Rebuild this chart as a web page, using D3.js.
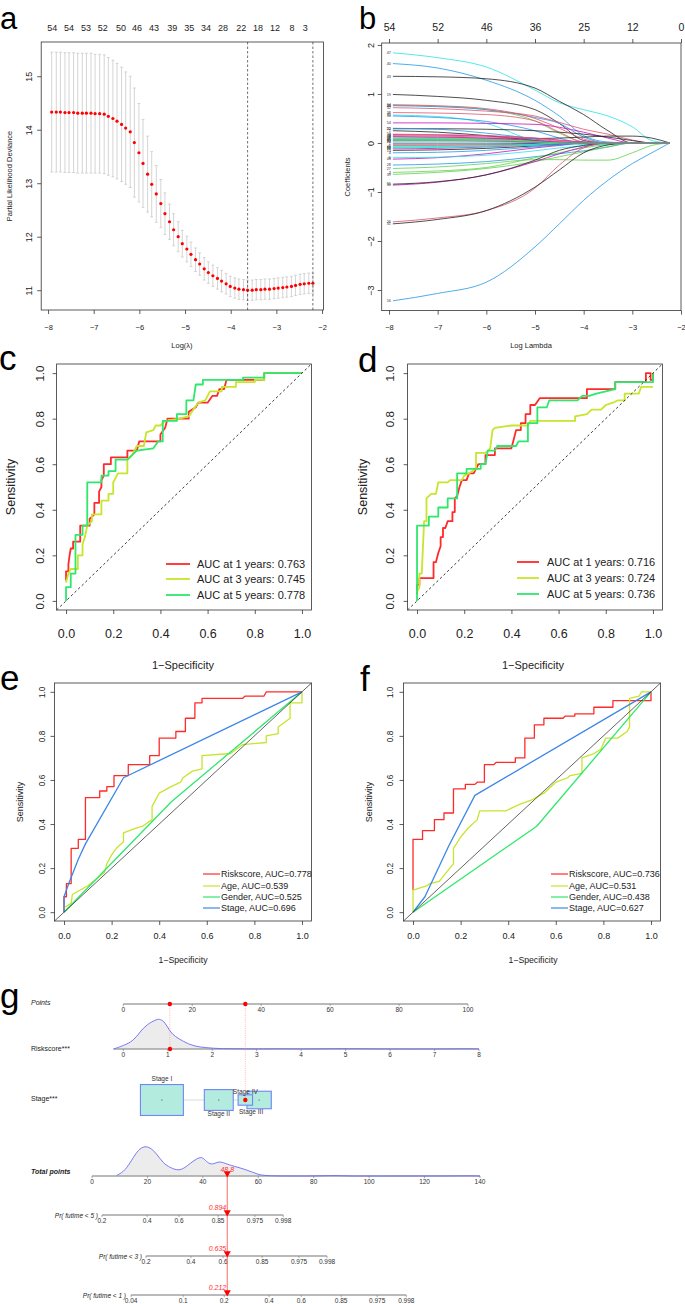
<!DOCTYPE html>
<html>
<head>
<meta charset="utf-8">
<script src="https://cdn.jsdelivr.net/npm/d3@7"></script>
<style>
  body { margin: 0; background: #fff; }
  text { font-family: "Liberation Sans", Arial, sans-serif; }
</style>
</head>
<body>
<div id="fig"></div>
<script>
// ---------- data: a (cross-validation curve) ----------
var aLogLambda = [-7.92,-7.82,-7.73,-7.63,-7.54,-7.44,-7.35,-7.25,-7.16,-7.06,
  -6.97,-6.87,-6.77,-6.68,-6.58,-6.49,-6.39,-6.30,-6.20,-6.11,
  -6.01,-5.92,-5.82,-5.73,-5.63,-5.53,-5.44,-5.34,-5.25,-5.15,
  -5.06,-4.96,-4.87,-4.77,-4.68,-4.58,-4.49,-4.39,-4.29,-4.20,
  -4.10,-4.01,-3.91,-3.82,-3.72,-3.63,-3.53,-3.44,-3.34,-3.25,
  -3.15,-3.05,-2.96,-2.86,-2.77,-2.67,-2.58,-2.48,-2.39,-2.29,-2.20];
var aDeviance = [14.33,14.33,14.33,14.32,14.32,14.32,14.31,14.31,14.31,14.31,
  14.30,14.30,14.29,14.25,14.21,14.16,14.10,14.03,13.96,13.76,
  13.57,13.37,13.17,12.98,12.80,12.62,12.43,12.28,12.13,12.00,
  11.87,11.77,11.67,11.57,11.49,11.40,11.33,11.27,11.22,11.17,
  11.12,11.07,11.04,11.02,11.01,11.00,11.00,11.01,11.01,11.02,
  11.02,11.03,11.04,11.05,11.06,11.07,11.09,11.11,11.12,11.13,11.13];
var aSE = [1.12,1.12,1.12,1.12,1.12,1.12,1.12,1.12,1.12,1.12,
  1.11,1.11,1.11,1.10,1.09,1.08,1.07,1.05,1.04,1.02,
  0.92,0.82,0.71,0.61,0.53,0.45,0.39,0.33,0.30,0.28,
  0.25,0.24,0.23,0.22,0.21,0.21,0.20,0.20,0.20,0.20,
  0.19,0.19,0.19,0.19,0.19,0.19,0.19,0.19,0.19,0.19,
  0.19,0.19,0.19,0.19,0.19,0.19,0.19,0.19,0.19,0.19,0.19];
var aTopLabels = [54,54,53,52,50,46,43,39,35,34,28,22,18,12,8,3];
var aTopAt = [-7.91,-7.54,-7.17,-6.80,-6.40,-6.05,-5.68,-5.28,-4.91,-4.54,-4.17,-3.77,-3.40,-3.03,-2.66,-2.37];
var aLambdaMin = -3.63, aLambda1se = -2.20;
var aXTicks = [-8,-7,-6,-5,-4,-3,-2];
var aYTicks = [11,12,13,14,15];

// ---------- data: b (coefficient paths) ----------
var bKnots = [-7.92,-7,-6,-5,-4.5,-4,-3.5,-3,-2.6,-2.23];
var bVars = [47,40,43,19,21,34,32,38,35,10,54,25,1,49,6,44,9,11,12,22,7,2,15,18,13,41,48,5,28,27,3,39,30,55,26,31,16,14,52,33,17,50,4,24,45];
var bCoefs = [
  [1.84,1.74,1.55,1.08,0.82,0.68,0.55,0.33,0.05,0],
  [1.62,1.53,1.28,0.87,0.55,0.15,0.02,0,0,0],
  [1.36,1.35,1.31,1.12,0.85,0.58,0.25,0,0,0],
  [0.99,0.95,0.87,0.68,0.40,0.05,0,0,0,0],
  [0.77,0.75,0.68,0.45,0.20,0.02,0,0,0,0],
  [0.76,0.74,0.68,0.52,0.40,0.12,0,0,0,0],
  [0.72,0.70,0.65,0.55,0.42,0.28,0.18,0.06,0,0],
  [0.62,0.61,0.58,0.45,0.22,0.02,0,0,0,0],
  [0.57,0.54,0.40,0.05,0,0,0,0,0,0],
  [0.55,0.52,0.44,0.25,0.10,0,0,0,0,0],
  [0.41,0.41,0.40,0.38,0.32,0.22,0.10,0,0,0],
  [0.29,0.29,0.28,0.25,0.22,0.18,0.12,0.05,0,0],
  [0.25,0.22,0.15,0.05,0,0,0,0,0,0],
  [0.08,0.08,0.08,0.09,0.10,0.12,0.14,0.14,0.10,0],
  [0.17,0.16,0.14,0.10,0.06,0.02,0,0,0,0],
  [0.15,0.14,0.12,0.08,0.03,0,0,0,0,0],
  [0.12,0.11,0.09,0.04,0,0,0,0,0,0],
  [0.10,0.09,0.06,0.02,0,0,0,0,0,0],
  [0.05,0.05,0.04,0.02,0,0,0,0,0,0],
  [0.02,0.02,0.02,0.01,0,0,0,0,0,0],
  [-0.02,-0.02,-0.02,-0.01,0,0,0,0,0,0],
  [-0.05,-0.05,-0.04,-0.02,0,0,0,0,0,0],
  [-0.09,-0.08,-0.06,-0.03,0,0,0,0,0,0],
  [-0.12,-0.11,-0.08,-0.04,-0.02,0,0,0,0,0],
  [-0.15,-0.14,-0.11,-0.06,-0.03,0,0,0,0,0],
  [-0.07,-0.07,-0.06,-0.05,-0.04,-0.03,-0.02,0,0,0],
  [-0.33,-0.30,-0.22,-0.10,-0.05,0,0,0,0,0],
  [-0.30,-0.29,-0.25,-0.16,-0.10,-0.06,-0.02,0,0,0],
  [-0.45,-0.43,-0.38,-0.28,-0.22,-0.16,-0.08,0,0,0],
  [-0.52,-0.49,-0.42,-0.34,-0.34,-0.35,-0.35,-0.20,-0.05,0],
  [-0.60,-0.57,-0.50,-0.30,-0.20,-0.10,-0.03,0,0,0],
  [-0.64,-0.60,-0.52,-0.38,-0.28,-0.18,-0.08,0,0,0],
  [-0.86,-0.80,-0.65,-0.38,-0.22,-0.08,0,0,0,0],
  [-0.84,-0.79,-0.65,-0.35,-0.15,-0.05,0,0,0,0],
  [-1.61,-1.53,-1.38,-0.92,-0.45,-0.10,0,0,0,0],
  [-1.65,-1.56,-1.38,-0.90,-0.55,-0.20,-0.04,0,0,0],
  [-3.22,-3.07,-2.84,-2.12,-1.65,-1.17,-0.76,-0.42,-0.20,0],
  [0.78,0.76,0.70,0.50,0.30,0.08,0,0,0,0],
  [0.30,0.28,0.20,0.08,0,0,0,0,0,0],
  [0.05,0.05,0.05,0.03,0.01,0,0,0,0,0],
  [-0.10,-0.09,-0.07,-0.03,0,0,0,0,0,0],
  [0.18,0.17,0.15,0.10,0.05,0.01,0,0,0,0],
  [-0.20,-0.19,-0.15,-0.08,-0.04,0,0,0,0,0],
  [0.13,0.12,0.10,0.05,0.02,0,0,0,0,0],
  [0.07,0.07,0.06,0.03,0,0,0,0,0,0]
];
var bTopLabels = [54,52,46,36,25,12,0];
var bXTicks = [-8,-7,-6,-5,-4,-3,-2];
var bYTicks = [-3,-2,-1,0,1,2];

// ---------- data: c, d (time-dependent ROC) ----------
var rocYears = ["AUC at 1 years: ", "AUC at 3 years: ", "AUC at 5 years: "];
var cAUC = ["0.763", "0.745", "0.778"];
var dAUC = ["0.716", "0.724", "0.736"];
var cRoc1 = [[0,0.09],[0,0.13],[0.01,0.13],[0.01,0.16],[0.015,0.2],[0.02,0.23],[0.03,0.23],[0.03,0.26],[0.06,0.26],[0.06,0.33],[0.1,0.33],[0.1,0.36],[0.12,0.38],[0.12,0.43],[0.14,0.43],[0.14,0.48],[0.15,0.5],[0.15,0.53],[0.16,0.55],[0.16,0.6],[0.19,0.6],[0.19,0.63],[0.26,0.63],[0.26,0.66],[0.3,0.66],[0.31,0.7],[0.4,0.7],[0.4,0.73],[0.42,0.76],[0.43,0.8],[0.52,0.8],[0.52,0.83],[0.55,0.85],[0.56,0.87],[0.6,0.87],[0.62,0.9],[0.64,0.9],[0.65,0.93],[0.67,0.93],[0.68,0.97],[0.84,0.97],[0.84,1],[1,1]];
var cRoc3 = [[0,0.08],[0.01,0.12],[0.02,0.14],[0.05,0.14],[0.05,0.2],[0.07,0.2],[0.07,0.25],[0.08,0.28],[0.09,0.33],[0.11,0.35],[0.11,0.38],[0.15,0.38],[0.15,0.44],[0.18,0.44],[0.18,0.47],[0.2,0.47],[0.2,0.52],[0.22,0.56],[0.26,0.56],[0.26,0.62],[0.28,0.64],[0.3,0.68],[0.33,0.68],[0.34,0.74],[0.37,0.75],[0.38,0.77],[0.4,0.77],[0.42,0.79],[0.48,0.8],[0.52,0.81],[0.54,0.84],[0.56,0.87],[0.59,0.88],[0.61,0.92],[0.66,0.92],[0.66,0.94],[0.72,0.94],[0.72,0.96],[0.8,0.96],[0.8,0.97],[0.84,0.97],[0.84,1],[1,1]];
var cRoc5 = [[0,0],[0,0.06],[0.02,0.06],[0.02,0.12],[0.04,0.12],[0.04,0.29],[0.07,0.29],[0.07,0.33],[0.09,0.33],[0.09,0.52],[0.15,0.52],[0.15,0.55],[0.18,0.55],[0.18,0.57],[0.21,0.57],[0.21,0.62],[0.26,0.62],[0.3,0.66],[0.37,0.67],[0.39,0.7],[0.41,0.7],[0.41,0.79],[0.47,0.79],[0.47,0.82],[0.51,0.82],[0.51,0.88],[0.54,0.88],[0.55,0.95],[0.58,0.95],[0.58,0.97],[0.75,0.97],[0.75,0.98],[0.84,0.98],[0.84,1],[1,1]];
var dRoc1 = [[0,0.03],[0,0.07],[0.01,0.07],[0.01,0.1],[0.07,0.1],[0.07,0.17],[0.08,0.17],[0.09,0.21],[0.1,0.24],[0.1,0.28],[0.11,0.28],[0.11,0.32],[0.12,0.32],[0.13,0.35],[0.15,0.35],[0.15,0.39],[0.16,0.39],[0.16,0.45],[0.17,0.46],[0.18,0.5],[0.19,0.53],[0.21,0.53],[0.22,0.56],[0.24,0.56],[0.25,0.58],[0.26,0.6],[0.29,0.6],[0.29,0.64],[0.33,0.64],[0.33,0.67],[0.4,0.67],[0.41,0.71],[0.42,0.75],[0.44,0.75],[0.44,0.78],[0.46,0.78],[0.46,0.82],[0.48,0.82],[0.48,0.86],[0.5,0.86],[0.52,0.89],[0.72,0.89],[0.72,0.93],[0.84,0.93],[0.84,0.96],[0.97,0.96],[0.97,1],[0.99,1],[0.99,0.97],[1,0.97],[1,1]];
var dRoc3 = [[0,0.04],[0.01,0.06],[0.01,0.12],[0.02,0.12],[0.03,0.35],[0.04,0.35],[0.04,0.45],[0.06,0.47],[0.08,0.47],[0.09,0.52],[0.13,0.52],[0.14,0.53],[0.19,0.53],[0.2,0.55],[0.22,0.56],[0.25,0.58],[0.25,0.65],[0.29,0.65],[0.31,0.67],[0.32,0.75],[0.33,0.76],[0.4,0.77],[0.47,0.77],[0.48,0.79],[0.67,0.79],[0.67,0.81],[0.72,0.82],[0.74,0.84],[0.78,0.84],[0.8,0.86],[0.83,0.87],[0.85,0.88],[0.88,0.88],[0.88,0.91],[0.94,0.91],[0.95,0.94],[1,0.94]];
var dRoc5 = [[0,0],[0,0.33],[0.05,0.33],[0.05,0.37],[0.09,0.37],[0.09,0.41],[0.13,0.41],[0.13,0.45],[0.17,0.45],[0.17,0.56],[0.21,0.56],[0.21,0.58],[0.27,0.58],[0.27,0.6],[0.29,0.6],[0.3,0.66],[0.33,0.66],[0.34,0.68],[0.42,0.68],[0.43,0.7],[0.47,0.7],[0.47,0.78],[0.51,0.78],[0.51,0.85],[0.55,0.85],[0.56,0.88],[0.68,0.88],[0.7,0.9],[0.73,0.9],[0.76,0.91],[0.8,0.92],[0.84,0.93],[0.84,0.96],[1,0.96],[1,1]];

// ---------- data: e, f (multivariable ROC) ----------
var featNames = ["Riskscore", "Age", "Gender", "Stage"];
var eAUC = ["0.778", "0.539", "0.525", "0.696"];
var fAUC = ["0.736", "0.531", "0.438", "0.627"];
var eRisk = [[0,0],[0,0.07],[0.01,0.07],[0.01,0.13],[0.03,0.13],[0.03,0.29],[0.06,0.29],[0.06,0.33],[0.09,0.33],[0.09,0.52],[0.15,0.52],[0.15,0.55],[0.18,0.55],[0.18,0.57],[0.21,0.57],[0.21,0.62],[0.27,0.62],[0.27,0.67],[0.36,0.67],[0.36,0.71],[0.4,0.71],[0.4,0.79],[0.47,0.79],[0.47,0.82],[0.51,0.82],[0.51,0.88],[0.55,0.88],[0.55,0.95],[0.58,0.95],[0.58,0.97],[0.75,0.97],[0.76,0.98],[0.84,0.98],[0.85,1],[1,1]];
var eAge = [[0,0.02],[0.03,0.04],[0.035,0.08],[0.1,0.12],[0.17,0.18],[0.18,0.22],[0.2,0.26],[0.22,0.29],[0.25,0.32],[0.25,0.36],[0.3,0.38],[0.33,0.39],[0.37,0.42],[0.37,0.48],[0.4,0.54],[0.45,0.57],[0.49,0.59],[0.5,0.61],[0.54,0.64],[0.58,0.65],[0.58,0.71],[0.7,0.72],[0.75,0.76],[0.85,0.77],[0.85,0.8],[0.9,0.81],[0.9,0.84],[0.95,0.88],[0.95,0.95],[1,0.95],[1,1]];
var eGender = [[0,0],[0.45,0.5],[1,1]];
var eStage = [[0,0],[0,0.07],[0.02,0.13],[0.06,0.24],[0.09,0.31],[0.25,0.61],[1,1]];
var fRisk = [[0,0.1],[0,0.33],[0.04,0.33],[0.04,0.37],[0.09,0.37],[0.09,0.42],[0.13,0.42],[0.13,0.45],[0.17,0.45],[0.17,0.56],[0.22,0.56],[0.22,0.58],[0.26,0.58],[0.27,0.59],[0.3,0.59],[0.3,0.67],[0.34,0.67],[0.35,0.68],[0.43,0.68],[0.43,0.7],[0.47,0.7],[0.47,0.79],[0.51,0.79],[0.51,0.85],[0.55,0.85],[0.55,0.88],[0.63,0.88],[0.64,0.89],[0.68,0.89],[0.68,0.9],[0.76,0.9],[0.76,0.93],[0.84,0.93],[0.84,0.96],[1,0.96],[1,1]];
var fAge = [[0,0],[0,0.1],[0.06,0.12],[0.07,0.13],[0.11,0.14],[0.17,0.22],[0.17,0.29],[0.2,0.34],[0.23,0.38],[0.27,0.42],[0.28,0.46],[0.39,0.46],[0.45,0.49],[0.5,0.51],[0.55,0.54],[0.6,0.59],[0.65,0.61],[0.66,0.62],[0.71,0.63],[0.71,0.7],[0.76,0.72],[0.79,0.74],[0.81,0.79],[0.86,0.79],[0.9,0.82],[0.91,0.84],[0.91,0.97],[0.95,0.98],[0.96,1],[1,1]];
var fGender = [[0,0],[0.52,0.39],[1,1]];
var fStage = [[0,0],[0.05,0.07],[0.15,0.3],[0.26,0.53],[1,1]];
var rocTicks = [0,0.2,0.4,0.6,0.8,1];

// ---------- data: g (nomogram) ----------
var pointTicks = [0,20,40,60,80,100];
var riskTicks = [0,1,2,3,4,5,6,7,8];
var riskMaxPoints = 103.2;
var riskDensX = [-0.22,0,0.23,0.38,0.53,0.75,0.83,0.94,1.05,1.16,1.35,1.58,1.88,2.18,2.48,3,3.6,4,4.6,5.2,6,7,7.8,8];
var riskDensY = [0,0.11,0.27,0.58,0.82,0.99,1,0.89,0.58,0.42,0.25,0.09,0.04,0.01,0.01,0,0.01,0,0.01,0.01,0,0,0.01,0];
var stageNames = ["Stage I","Stage II","Stage III","Stage IV"];
var stagePoints = [11.2, 27.7, 39.4, 35.4];
var stageShare = [0.53, 0.24, 0.17, 0.06];
var patientRisk = 1.05, patientRiskPts = 13.5, patientStagePts = 35.4, patientTotal = 48.8;
var totalTicks = [0,20,40,60,80,100,120,140];
var totDensX = [8.9,11.3,13.7,16.1,18.5,20.9,23.3,25.7,28.2,31.2,33.6,35.4,37.8,39.6,40.8,42.6,44.4,46,48,51,55.8,60,63,69,80,88,92,100,130,135,140];
var totDensY = [0.02,0.13,0.42,0.81,1,0.96,0.75,0.42,0.28,0.17,0.28,0.42,0.58,0.64,0.53,0.38,0.42,0.49,0.42,0.33,0.21,0.04,0.01,0,0,0.02,0,0,0,0.01,0];
var pr5Labels = ["0.2","0.4","0.6","0.85","0.975","0.998"];
var pr5At = [3.6,19.9,31.4,45.5,58.8,69.0];
var pr3Labels = ["0.2","0.4","0.6","0.85","0.975","0.998"];
var pr3At = [19.5,35.7,47.3,61.4,74.7,84.8];
var pr1Labels = ["0.04","0.1","0.2","0.4","0.6","0.85","0.975","0.998"];
var pr1At = [14.1,32.9,47.7,63.9,75.5,89.9,102.9,113.4];
var prValues = ["0.894","0.635","0.212"];

// ---------- drawing ----------
var W = 685, H = 1304;
var svg = d3.select("#fig").append("svg").attr("width", W).attr("height", H);
svg.append("rect").attr("width", W).attr("height", H).attr("fill", "#fff");

var RED = "#ff2a2a", YEL = "#c6e52b", GRN = "#2ee86c", BLU = "#3d86e8";
var rPal = ["#222222", "#DF536B", "#61D04F", "#2297E6", "#28E2E5", "#CD0BBC"];

function frame(x, y) {
  var rx = x.range(), ry = y.range();
  svg.append("rect").attr("x", rx[0]).attr("y", ry[1])
    .attr("width", rx[1] - rx[0]).attr("height", ry[0] - ry[1])
    .attr("fill", "none").attr("stroke", "#333").attr("stroke-width", 0.8);
}

function bottomAxis(x, y, vals, fs, off, fmt) {
  var g = svg.append("g").attr("transform", "translate(0," + y.range()[0] + ")")
    .call(d3.axisBottom(x).tickValues(vals).tickSize(4).tickFormat(fmt));
  g.select(".domain").remove();
  g.selectAll("line").attr("stroke", "#333").attr("stroke-width", 0.8);
  g.selectAll("text").attr("y", off).attr("dy", null).attr("font-size", fs).attr("fill", "#222");
  return g;
}

function leftAxis(x, y, vals, fs, d, fmt) {
  var g = svg.append("g").attr("transform", "translate(" + x.range()[0] + ",0)")
    .call(d3.axisLeft(y).tickValues(vals).tickSize(4).tickFormat(fmt));
  g.select(".domain").remove();
  g.selectAll("line").attr("stroke", "#333").attr("stroke-width", 0.8);
  g.selectAll("text").attr("x", 0).attr("y", -d).attr("dy", null)
    .attr("transform", "rotate(-90)").attr("text-anchor", "middle")
    .attr("font-size", fs).attr("fill", "#222");
  return g;
}

function label(txt, x, y, fs, opts) {
  opts = opts || {};
  var t = svg.append("text").attr("x", x).attr("y", y).attr("font-size", fs)
    .attr("fill", opts.fill || "#222").attr("text-anchor", opts.anchor || "middle").text(txt);
  if (opts.rot) t.attr("transform", "rotate(-90," + x + "," + y + ")");
  if (opts.italic) t.attr("font-style", "italic");
  if (opts.bold) t.attr("font-weight", "bold");
  return t;
}

function panelLetter(ch, x, y, fs) {
  svg.append("text").attr("x", x).attr("y", y).attr("font-size", fs || 35).attr("fill", "#000").text(ch);
}

// ===== a =====
var xa = d3.scaleLinear().domain([-8.15, -1.97]).range([41.2, 323.4]);
var ya = d3.scaleLinear().domain([10.63, 15.64]).range([310, 42]);
frame(xa, ya);
bottomAxis(xa, ya, aXTicks, 7.5, 19.5, d3.format("d"));
leftAxis(xa, ya, aYTicks, 9, 9, d3.format("d"));
svg.selectAll(".aTop").data(aTopAt).join("text")
  .attr("x", function(d) { return xa(d); }).attr("y", 30.5)
  .attr("text-anchor", "middle").attr("font-size", 9).attr("fill", "#222")
  .text(function(d, i) { return aTopLabels[i]; });
label("Log(\u03bb)", 182, 348, 7.5);
label("Partial Likelihood Deviance", 12, 176, 7.5, {rot: true});

var aG = svg.append("g");
aLogLambda.forEach(function(l, i) {
  var up = aDeviance[i] + aSE[i], lo = aDeviance[i] - aSE[i];
  aG.append("line").attr("x1", xa(l)).attr("x2", xa(l)).attr("y1", ya(up)).attr("y2", ya(lo))
    .attr("stroke", "#c9c9c9").attr("stroke-width", 0.8);
  [up, lo].forEach(function(v) {
    aG.append("line").attr("x1", xa(l) - 1.4).attr("x2", xa(l) + 1.4).attr("y1", ya(v)).attr("y2", ya(v))
      .attr("stroke", "#c9c9c9").attr("stroke-width", 0.8);
  });
});
aG.selectAll("circle").data(aLogLambda).join("circle")
  .attr("cx", function(d) { return xa(d); })
  .attr("cy", function(d, i) { return ya(aDeviance[i]); })
  .attr("r", 1.6).attr("fill", "#ff0000");
[aLambdaMin, aLambda1se].forEach(function(l) {
  svg.append("line").attr("x1", xa(l)).attr("x2", xa(l)).attr("y1", ya.range()[1]).attr("y2", ya.range()[0])
    .attr("stroke", "#333").attr("stroke-width", 0.7).attr("stroke-dasharray", "2.5,2");
});
panelLetter("a", 0, 29, 31);

// ===== b =====
var xb = d3.scaleLinear().domain([-8.15, -2.0]).range([381.7, 681]);
var yb = d3.scaleLinear().domain([-3.42, 2.04]).range([310.6, 43]);
frame(xb, yb);
bottomAxis(xb, yb, bXTicks, 7.5, 19, d3.format("d"));
leftAxis(xb, yb, bYTicks, 9, 8, d3.format("d"));
var bTop = svg.append("g").attr("transform", "translate(0," + yb.range()[1] + ")")
  .call(d3.axisTop(xb).tickValues(bXTicks).tickSize(4).tickFormat(function(d, i) { return bTopLabels[i]; }));
bTop.select(".domain").remove();
bTop.selectAll("line").attr("stroke", "#333").attr("stroke-width", 0.8);
bTop.selectAll("text").attr("y", -12.3).attr("dy", null).attr("font-size", 10.5).attr("fill", "#222");
label("Log Lambda", 531, 348, 7.5);
label("Coefficients", 350, 177, 7.5, {rot: true});

var bLine = d3.line().x(function(d, i) { return xb(bKnots[i]); }).y(function(d) { return yb(d); })
  .curve(d3.curveMonotoneX);
svg.append("g").selectAll("path").data(bCoefs).join("path")
  .attr("d", bLine).attr("fill", "none").attr("stroke-width", 0.8)
  .attr("stroke", function(d, i) { return rPal[(bVars[i] - 1) % 6]; });
svg.append("g").selectAll("text").data(bCoefs).join("text")
  .attr("x", xb(bKnots[0]) - 2).attr("y", function(d) { return yb(d[0]) + 1.3; })
  .attr("text-anchor", "end").attr("font-size", 3.8).attr("fill", "#333")
  .text(function(d, i) { return bVars[i]; });
panelLetter("b", 359, 29, 31);

// ===== ROC helpers =====
function rocPanel(xr, yr, series, colors, widths, dashedDiag, tickFs, tickOff, yd) {
  var x = d3.scaleLinear().domain([-0.04, 1.04]).range(xr);
  var y = d3.scaleLinear().domain([-0.04, 1.04]).range(yr);
  var line = d3.line().x(function(d) { return x(d[0]); }).y(function(d) { return y(d[1]); });
  var g = svg.append("g");
  series.forEach(function(s, i) {
    g.append("path").attr("d", line(s)).attr("fill", "none").attr("stroke", colors[i])
      .attr("stroke-width", widths).attr("stroke-linejoin", "round");
  });
  g.append("line").attr("x1", x(-0.04)).attr("y1", y(-0.04)).attr("x2", x(1.04)).attr("y2", y(1.04))
    .attr("stroke", "#222").attr("stroke-width", dashedDiag ? 0.9 : 0.7)
    .attr("stroke-dasharray", dashedDiag ? "2.5,2.5" : null);
  frame(x, y);
  bottomAxis(x, y, rocTicks, tickFs, tickOff, d3.format(".1f"));
  leftAxis(x, y, rocTicks, tickFs * 0.92, yd, d3.format(".1f"));
  return {x: x, y: y};
}

function legend(x0, x1, tx, ys, texts, colors, fs, lw) {
  ys.forEach(function(yy, i) {
    svg.append("line").attr("x1", x0).attr("x2", x1).attr("y1", yy).attr("y2", yy)
      .attr("stroke", colors[i]).attr("stroke-width", lw);
    svg.append("text").attr("x", tx).attr("y", yy + fs * 0.36).attr("font-size", fs)
      .attr("fill", "#222").text(texts[i]);
  });
}

// ===== c =====
rocPanel([56.6, 311.4], [610, 364], [cRoc1, cRoc3, cRoc5], [RED, YEL, GRN], 1.8, true, 12.5, 28, 13);
legend(166, 190, 197, [564, 579, 595], rocYears.map(function(t, i) { return t + cAUC[i]; }), [RED, YEL, GRN], 11, 1.8);
label("1\u2212Specificity", 183, 669, 11);
label("Sensitivity", 15, 487, 12.5, {rot: true});
panelLetter("c", -1, 370);

// ===== d =====
rocPanel([407.6, 662.4], [610, 364], [dRoc1, dRoc3, dRoc5], [RED, YEL, GRN], 1.8, true, 12.5, 28, 14);
legend(517, 539, 547, [562, 578, 594], rocYears.map(function(t, i) { return t + dAUC[i]; }), [RED, YEL, GRN], 11, 1.8);
label("1\u2212Specificity", 533, 669, 11);
label("Sensitivity", 367, 487, 12.5, {rot: true});
panelLetter("d", 358, 372);

// ===== e =====
var featCols = [RED, YEL, GRN, BLU];
rocPanel([54.5, 311.5], [921, 683], [eRisk, eAge, eGender, eStage], featCols, 1.3, false, 9, 18, 9.5);
legend(203, 220, 221, [874, 886, 897, 908], featNames.map(function(t, i) { return t + ", AUC=" + eAUC[i]; }), featCols, 9, 1.2);
label("1\u2212Specificity", 183, 963, 8.7);
label("Sensitivity", 23, 802, 9, {rot: true});
panelLetter("e", 0, 690);

// ===== f =====
rocPanel([403.5, 660.5], [921, 683], [fRisk, fAge, fGender, fStage], featCols, 1.3, false, 9, 18, 10.5);
legend(551, 568, 569, [874, 886, 897, 908], featNames.map(function(t, i) { return t + ", AUC=" + fAUC[i]; }), featCols, 9, 1.2);
label("1\u2212Specificity", 533, 963, 8.7);
label("Sensitivity", 372, 802, 9, {rot: true});
panelLetter("f", 360, 691);

// ===== g: nomogram =====
var ptsX = d3.scaleLinear().domain([0, 100]).range([123.3, 468]);
var totX = d3.scaleLinear().domain([0, 140]).range([92, 480]);
var riskX = d3.scaleLinear().domain([0, 8]).range([ptsX(0), ptsX(riskMaxPoints)]);
var AX = "#a3a3a3";

function nomoAxis(scale, lo, hi, ticks, labels, y, fs) {
  svg.append("line").attr("x1", scale(lo)).attr("x2", scale(hi)).attr("y1", y).attr("y2", y)
    .attr("stroke", AX).attr("stroke-width", 1.6);
  var g = svg.append("g");
  g.selectAll("line").data(ticks).join("line")
    .attr("x1", function(d) { return scale(d); }).attr("x2", function(d) { return scale(d); })
    .attr("y1", y).attr("y2", y + 2.2).attr("stroke", "#777").attr("stroke-width", 0.6);
  g.selectAll("text").data(ticks).join("text")
    .attr("x", function(d) { return scale(d); }).attr("y", y + 7.5)
    .attr("text-anchor", "middle").attr("font-size", fs).attr("fill", "#333")
    .text(function(d, i) { return labels ? labels[i] : d; });
}

function density(scale, xs, ys, base, hpx) {
  var area = d3.area().x(function(d) { return scale(d); }).y0(base)
    .y1(function(d, i) { return base - ys[i] * hpx; }).curve(d3.curveBasis);
  var top = d3.line().x(function(d) { return scale(d); })
    .y(function(d, i) { return base - ys[i] * hpx; }).curve(d3.curveBasis);
  svg.append("path").attr("d", area(xs)).attr("fill", "#ececec");
  return function() {
    svg.append("path").attr("d", top(xs)).attr("fill", "none").attr("stroke", "#6a6af5").attr("stroke-width", 0.9);
  };
}

panelLetter("g", 0, 1008);

// Points row
label("Points", 31, 1004.5, 7, {anchor: "start", italic: true});
nomoAxis(ptsX, 0, 100, pointTicks, null, 1004, 6.5);

// Riskscore row
var riskTop = density(riskX, riskDensX, riskDensY, 1049, 30);
label("Riskscore***", 31, 1050.5, 7, {anchor: "start"});
nomoAxis(riskX, riskDensX[0], 8, riskTicks, null, 1049, 6.5);
riskTop();

// Stage row
label("Stage***", 31, 1100.5, 7, {anchor: "start"});
svg.append("line").attr("x1", ptsX(d3.min(stagePoints))).attr("x2", ptsX(d3.max(stagePoints)))
  .attr("y1", 1100).attr("y2", 1100).attr("stroke", "#cfcfcf").attr("stroke-width", 0.8);
var stageLabelDy = [-19, 15.5, 13.5, -6];
stageNames.forEach(function(n, i) {
  var w = 59 * Math.sqrt(stageShare[i]), h = 0.72 * w, cx = ptsX(stagePoints[i]);
  svg.append("rect").attr("x", cx - w / 2).attr("y", 1100 - h / 2).attr("width", w).attr("height", h)
    .attr("fill", "#b3ebdf").attr("stroke", "#6f86f5").attr("stroke-width", 1.1);
  svg.append("circle").attr("cx", cx).attr("cy", 1100).attr("r", 0.6).attr("fill", "#333");
});
stageNames.forEach(function(n, i) {
  label(n, ptsX(stagePoints[i]) + (i === 2 ? -8 : 0), 1100 + stageLabelDy[i], 6.5, {fill: "#333"});
});

// patient marks on the upper rows
var PINK = "#ff8a8a";
svg.append("line").attr("x1", ptsX(patientRiskPts)).attr("x2", ptsX(patientRiskPts)).attr("y1", 1004).attr("y2", 1049)
  .attr("stroke", PINK).attr("stroke-width", 0.6).attr("stroke-dasharray", "1,1.2");
svg.append("line").attr("x1", ptsX(patientStagePts)).attr("x2", ptsX(patientStagePts)).attr("y1", 1004).attr("y2", 1100)
  .attr("stroke", PINK).attr("stroke-width", 0.6).attr("stroke-dasharray", "1,1.2");
[[ptsX(patientRiskPts), 1004], [ptsX(patientStagePts), 1004], [riskX(patientRisk), 1049], [ptsX(patientStagePts), 1100]]
  .forEach(function(p) {
    svg.append("circle").attr("cx", p[0]).attr("cy", p[1]).attr("r", 2.2).attr("fill", "#ff0000");
  });

// Total points row
var totTop = density(totX, totDensX, totDensY, 1176, 30);
label("Total points", 31, 1173.5, 7, {anchor: "start", italic: true, bold: true});
nomoAxis(totX, 0, 140, totalTicks, null, 1176, 6.5);
totTop();

// probability rows
var prRows = [
  {name: "Pr( futime < 5 )", at: pr5At, labels: pr5Labels, y: 1215, lx: 98},
  {name: "Pr( futime < 3 )", at: pr3At, labels: pr3Labels, y: 1256, lx: 142},
  {name: "Pr( futime < 1 )", at: pr1At, labels: pr1Labels, y: 1295, lx: 126}
];
prRows.forEach(function(r) {
  label(r.name, r.lx, r.y + 2.5, 6.5, {anchor: "end", italic: true});
  nomoAxis(totX, r.at[0], r.at[r.at.length - 1], r.at, r.labels, r.y, 6.5);
});

// patient total and predicted probabilities
var px = totX(patientTotal);
svg.append("line").attr("x1", px).attr("x2", px).attr("y1", 1176).attr("y2", 1295)
  .attr("stroke", "#ff5a5a").attr("stroke-width", 0.9);
var tri = d3.symbol().type(d3.symbolTriangle).size(22);
[1176, 1215, 1256, 1295].forEach(function(yy) {
  svg.append("path").attr("d", tri()).attr("fill", "#ff0000")
    .attr("transform", "translate(" + px + "," + (yy - 2.6) + ") rotate(180)");
});
label(String(patientTotal), px, 1172, 7, {fill: "#ff3030", italic: true});
prRows.forEach(function(r, i) {
  label(prValues[i], px - 1, r.y - 5, 7, {fill: "#ff3030", italic: true, anchor: "end"});
});
</script>
</body>
</html>
